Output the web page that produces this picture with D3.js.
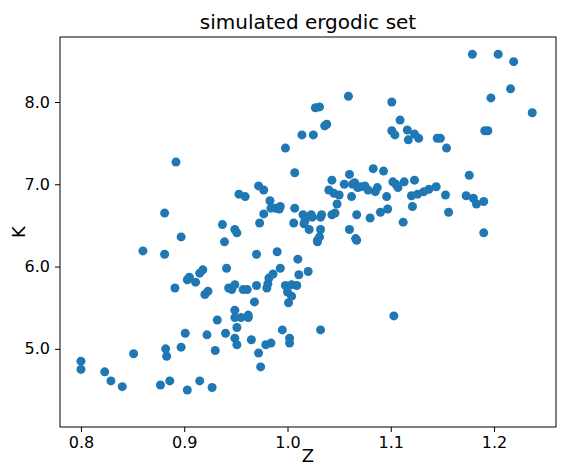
<!DOCTYPE html>
<html>
<head>
<meta charset="utf-8">
<script src="https://cdn.jsdelivr.net/npm/d3@7"></script>
<style>
body { margin: 0; background: #fff; }
text { font-family: "DejaVu Sans", sans-serif; fill: #000; }
</style>
</head>
<body>
<svg id="chart" width="564" height="472"></svg>
<script>
// simulated points (Z, K)
var zValues = [0.800,0.800,0.823,0.829,0.840,0.851,0.860,0.881,0.881,0.892,0.897,0.891,0.882,0.883,0.877,0.886,0.897,0.903,0.901,0.905,0.903,0.911,0.915,0.918,0.915,0.920,0.923,0.927,0.922,0.930,0.932,0.937,0.939,0.940,0.941,0.943,0.946,0.949,0.949,0.949,0.949,0.951,0.953,0.951,0.949,0.951,0.955,0.957,0.959,0.962,0.961,0.965,0.962,0.968,0.970,0.970,0.972,0.973,0.972,0.974,0.977,0.977,0.979,0.980,0.981,0.982,0.983,0.984,0.984,0.986,0.988,0.990,0.992,0.993,0.995,0.998,0.998,1.000,1.002,1.002,1.001,1.004,1.004,1.006,1.007,1.007,1.010,1.009,1.011,1.014,1.015,1.016,1.017,1.020,1.021,1.023,1.024,1.025,1.027,1.029,1.029,1.031,1.031,1.032,1.032,1.032,1.033,1.036,1.038,1.040,1.043,1.043,1.045,1.046,1.048,1.050,1.055,1.059,1.060,1.060,1.062,1.063,1.065,1.066,1.067,1.067,1.068,1.071,1.075,1.078,1.080,1.083,1.085,1.087,1.090,1.093,1.096,1.097,1.101,1.102,1.101,1.103,1.104,1.105,1.107,1.109,1.112,1.113,1.116,1.117,1.120,1.121,1.123,1.123,1.126,1.127,1.132,1.137,1.144,1.145,1.148,1.153,1.154,1.156,1.173,1.176,1.179,1.180,1.183,1.190,1.191,1.194,1.190,1.197,1.204,1.216,1.219,1.237,0.993];
var kValues = [4.85,4.75,4.72,4.61,4.54,4.94,6.19,6.65,6.15,7.27,6.36,5.74,5.00,4.91,4.56,4.61,5.02,4.50,5.19,5.87,5.84,5.81,5.92,5.96,4.61,5.66,5.70,4.53,5.17,4.98,5.35,6.51,6.30,5.19,5.98,5.74,5.72,5.78,5.13,5.47,6.45,6.41,6.88,5.26,5.38,5.05,5.38,5.72,6.85,5.38,5.72,5.11,5.41,5.57,6.15,5.77,6.98,6.53,4.95,4.78,6.93,6.64,5.05,5.74,5.79,5.86,6.80,5.07,6.71,5.91,6.71,6.18,6.70,6.73,5.23,7.44,5.77,5.69,5.13,5.07,5.56,5.78,5.64,6.53,7.14,6.71,6.09,5.77,5.90,7.60,6.63,6.52,6.56,5.94,6.45,6.63,6.60,7.60,7.93,6.30,6.32,7.94,6.36,5.23,6.45,6.60,6.63,7.71,7.73,6.93,7.05,6.63,6.89,6.65,6.76,6.87,7.00,8.07,7.12,6.45,6.85,7.00,7.02,6.34,6.32,6.63,6.96,6.97,6.98,6.93,6.59,7.19,6.91,6.96,6.66,7.16,6.85,6.70,8.00,7.03,7.65,5.40,7.60,7.00,6.96,7.78,6.54,7.03,7.66,7.54,6.86,6.73,7.61,7.05,6.88,7.56,6.91,6.94,6.97,7.56,7.56,6.87,7.44,6.66,6.86,7.11,8.58,6.83,6.76,6.79,7.65,7.65,6.41,8.05,8.58,8.16,8.49,7.87,5.98];
var xTicks = [0.8, 0.9, 1.0, 1.1, 1.2];
var yTicks = [5, 6, 7, 8];

// plot area
var plotLeft = 60, plotRight = 556, plotTop = 37, plotBottom = 427;
var svg = d3.select("#chart");

var x = d3.scaleLinear().domain([0.7797, 1.26]).range([plotLeft, plotRight]);
var y = d3.scaleLinear().domain([4.05, 8.79]).range([plotBottom, plotTop]);

var points = zValues.map(function(z, i) { return {z: z, k: kValues[i]}; });

svg.selectAll("circle.pt")
    .data(points)
    .enter()
    .append("circle")
    .attr("class", "pt")
    .attr("cx", function(d) { return x(d.z); })
    .attr("cy", function(d) { return y(d.k); })
    .attr("r", 4.5)
    .attr("fill", "#1f77b4");

var xAxis = svg.append("g")
    .attr("transform", "translate(0," + plotBottom + ")")
    .call(d3.axisBottom(x).tickValues(xTicks).tickFormat(d3.format(".1f")).tickSizeOuter(0).tickSize(5).tickPadding(5));
var yAxis = svg.append("g")
    .attr("transform", "translate(" + plotLeft + ",0)")
    .call(d3.axisLeft(y).tickValues(yTicks).tickSizeOuter(0).tickSize(5).tickPadding(5));
[xAxis, yAxis].forEach(function(a) {
    a.select(".domain").remove();
    a.selectAll("text").style("font-size", "16px").attr("font-family", "DejaVu Sans");
    a.selectAll("line").attr("stroke", "#000").attr("stroke-width", 1);
});

svg.append("rect")
    .attr("x", plotLeft).attr("y", plotTop)
    .attr("width", plotRight - plotLeft).attr("height", plotBottom - plotTop)
    .attr("fill", "none").attr("stroke", "#000").attr("stroke-width", 1);

svg.append("text")
    .attr("x", (plotLeft + plotRight) / 2).attr("y", 29)
    .attr("text-anchor", "middle").style("font-size", "20px")
    .text("simulated ergodic set");
svg.append("text")
    .attr("x", (plotLeft + plotRight) / 2).attr("y", 462)
    .attr("text-anchor", "middle").style("font-size", "18px")
    .text("Z");
svg.append("text")
    .attr("transform", "translate(25," + (plotTop + plotBottom) / 2 + ") rotate(-90)")
    .attr("text-anchor", "middle").style("font-size", "18px")
    .text("K");
</script>
</body>
</html>
